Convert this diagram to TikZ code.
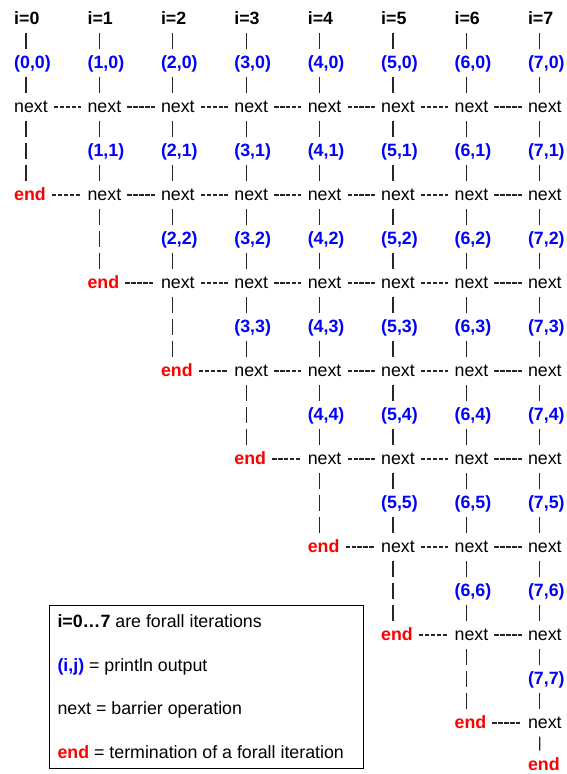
\documentclass[tikz,border=0pt]{standalone}
\usepackage{fontspec}
\setmainfont{Liberation Sans}
\definecolor{pairblue}{RGB}{0,0,255}
\definecolor{endred}{RGB}{255,0,0}
\tikzset{
  iter/.style={font=\bfseries},
  pair/.style={font=\bfseries,text=pairblue},
  sync/.style={},
  done/.style={font=\bfseries,text=endred},
  vlink/.style={dash pattern=on 16pt off 6pt,shorten <=14.5pt,shorten >=13.5pt,
    transform canvas={xshift=12pt,yshift=6pt}},
  hlink/.style={dash pattern=on 4.4pt off 1.5pt,shorten <=6pt,shorten >=6.3pt,
    transform canvas={yshift=4.9pt}}
}

\begin{document}
\begin{tikzpicture}[x=1pt,y=-1pt]
        \fontsize{17.8}{21}\selectfont
        \useasboundingbox (0,0) rectangle (566,774);
        \begin{scope}[every node/.style={anchor=base west,inner sep=0pt}]
            \foreach \c in {0,...,7} {
                \pgfmathsetmacro\xc{14+73.4*\c}
                \node[iter] (h\c) at (\xc,24) {i=\c};
                \foreach \j in {0,...,\c} {
                    \node[pair] (p\c-\j) at (\xc,{68+88*\j}) {(\c,\j)};
                    \node[sync] (n\c-\j) at (\xc,{112+88*\j}) {next};
                }
            }
            \foreach \c in {0,...,6}
                \node[done] (e\c) at ({14+73.4*\c},{200+88*\c}) {end};
            \node[done] (e7) at (527.8,770) {end};
        \end{scope}
        \begin{scope}[every edge/.style={draw,line width=1.3pt,black!85}]
            \foreach \c in {0,...,7} {
                \path (h\c.base west) edge[vlink] (p\c-0.base west);
                \foreach \j in {0,...,\c} {
                    \path (p\c-\j.base west) edge[vlink] (n\c-\j.base west);
                    \ifnum\j<\c\relax
                        \pgfmathtruncatemacro\k{\j+1}
                        \path (n\c-\j.base west) edge[vlink] (p\c-\k.base west);
                    \fi
                }
                \path (n\c-\c.base west) edge[vlink] (e\c.base west);
            }
            \foreach \r in {0,...,6} {
                \foreach \c in {\r,...,6} {
                    \pgfmathtruncatemacro\d{\c+1}
                    \path (n\c-\r.base east) edge[hlink] (n\d-\r.base west);
                }
            }
            \foreach \c in {0,...,6} {
                \pgfmathtruncatemacro\d{\c+1}
                \path (e\c.base east) edge[hlink] (n\d-\d.base west);
            }
        \end{scope}
        \node[draw,line width=1pt,anchor=north west,inner sep=0pt,minimum width=313.4pt,
            minimum height=163.3pt] (key) at (49.3,605) {};
        \begin{scope}[every node/.style={anchor=base west,inner sep=0pt}]
            \node (key1) at (57.3,627.5) {\textbf{i=0…7} are forall iterations};
            \node (key2) at (57.3,671) {\textcolor{pairblue}{\textbf{(i,j)}} = println output};
            \node (key3) at (57.3,714.5) {next = barrier operation};
            \node (key4) at (57.3,758) {\textcolor{endred}{\textbf{end}} = termination of a forall iteration};
        \end{scope}
    \end{tikzpicture}
\end{document}
